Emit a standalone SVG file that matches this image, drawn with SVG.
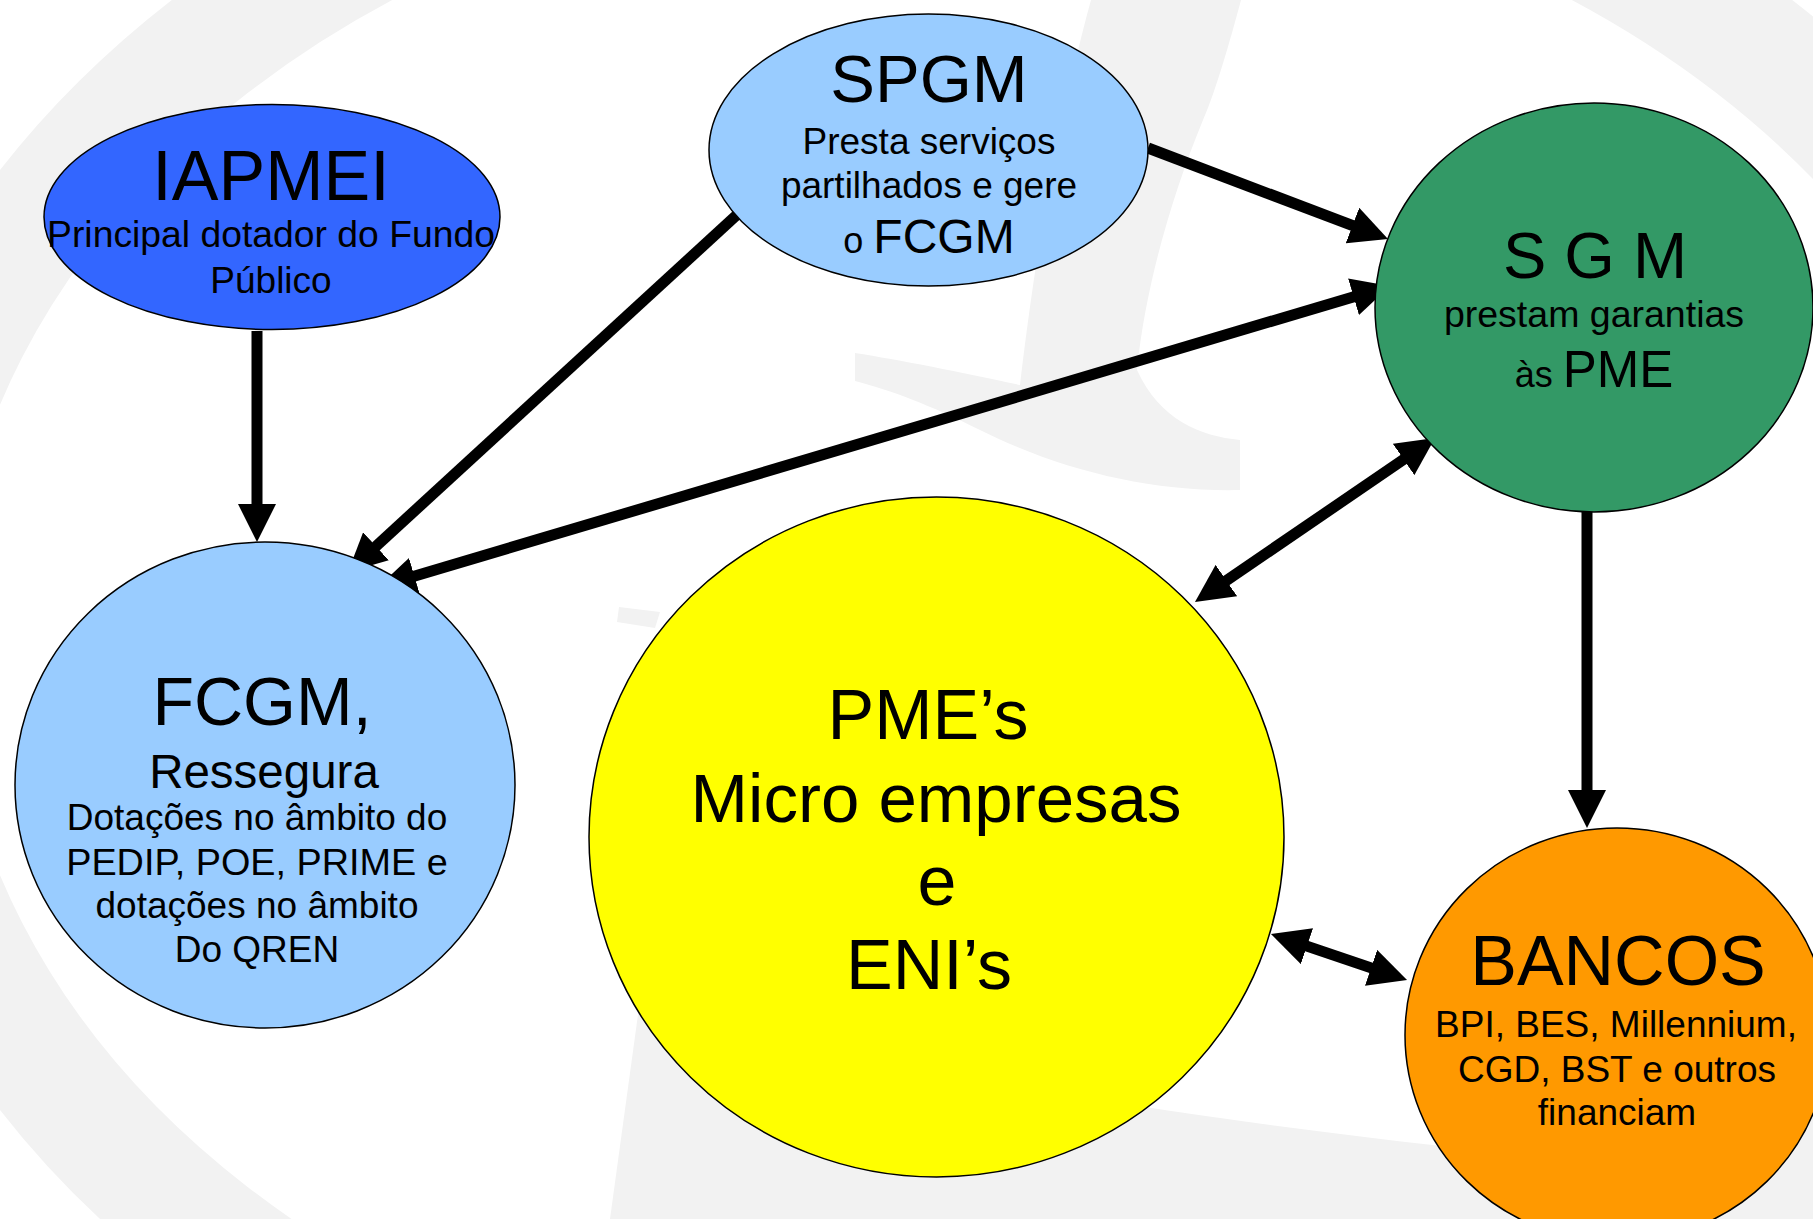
<svg xmlns="http://www.w3.org/2000/svg" width="1813" height="1219" viewBox="0 0 1813 1219">
<style>
.bg{fill:none;stroke:#f2f2f2}
.bgf{fill:#f2f2f2}
.node{stroke:#000;stroke-width:1.5}
text{font-family:"Liberation Sans",Arial,Helvetica,sans-serif;fill:#000;text-anchor:middle}
.t70{font-size:70px}
.t37{font-size:37px}
.conn{stroke:#000;stroke-width:11;fill:none;marker-end:url(#ah)}
.both{marker-start:url(#ah)}
</style>
<defs>
<marker id="ah" viewBox="0 0 38 38" refX="18" refY="19" markerWidth="38" markerHeight="38" markerUnits="userSpaceOnUse" orient="auto-start-reverse">
<path d="M0,0 L38,19 L0,38 z" fill="#000"/>
</marker>
</defs>
<rect width="1813" height="1219" fill="#fff"/>
<g id="watermark">
<ellipse class="bg" cx="982" cy="640" rx="1090" ry="841" stroke-width="120"/>
<path class="bgf" d="M1091,0 L1241,0 C1225,60 1212,100 1203,120 C1170,200 1145,290 1137,370 C1160,420 1200,436 1240,440 L1240,490 C1150,492 1060,470 980,430 C930,405 890,390 855,381 L855,353 C900,360 960,372 1020,385 C1030,300 1050,150 1091,0 z"/>
<path class="bgf" d="M640,1000 C800,1050 1100,1110 1480,1150 L1700,1170 L1700,1219 L610,1219 z"/>
<path class="bgf" d="M619,607 L660,612 L655,628 L617,622 z"/>
</g>
<g id="connectors">
<line class="conn" x1="257" y1="331" x2="257" y2="522"/>
<line class="conn" x1="740" y1="212" x2="362.7" y2="558.5"/>
<line class="conn" x1="1148" y1="148" x2="1369.3" y2="231.9"/>
<line class="conn both" x1="397.2" y1="581.3" x2="1370.8" y2="291.7"/>
<line class="conn both" x1="1211.5" y1="590.7" x2="1418.5" y2="449.3"/>
<line class="conn" x1="1587" y1="512" x2="1587" y2="808"/>
<line class="conn both" x1="1289.9" y1="940.4" x2="1388.1" y2="973.6"/>
</g>
<g id="node-iapmei">
<ellipse class="node" cx="272" cy="217" rx="228" ry="112.5" fill="#3366ff"/>
<text class="t70" x="271" y="200">IAPMEI</text>
<text x="271" y="247" style="font-size:37.3px">Principal dotador do Fundo</text>
<text class="t37" x="271" y="293">Público</text>
</g>
<g id="node-spgm">
<ellipse class="node" cx="928.5" cy="150" rx="219.5" ry="136" fill="#99ccff"/>
<text x="929" y="102" style="font-size:67px">SPGM</text>
<text class="t37" x="929" y="154">Presta serviços</text>
<text class="t37" x="929" y="198">partilhados e gere</text>
<text x="929" y="253" style="font-size:36px">o <tspan style="font-size:48px">FCGM</tspan></text>
</g>
<g id="node-sgm">
<ellipse class="node" cx="1594" cy="307.5" rx="219" ry="204.5" fill="#339966"/>
<text x="1595" y="278" style="font-size:65px">S G M</text>
<text x="1594" y="327" style="font-size:37.5px">prestam garantias</text>
<text x="1594" y="387" style="font-size:36px">às <tspan style="font-size:51px">PME</tspan></text>
</g>
<g id="node-fcgm">
<ellipse class="node" cx="265" cy="785" rx="250" ry="243" fill="#99ccff"/>
<text x="262" y="725" style="font-size:68px">FCGM,</text>
<text x="264" y="788" style="font-size:47.5px">Ressegura</text>
<text class="t37" x="257" y="830">Dotações no âmbito do</text>
<text x="257" y="875" style="font-size:37.8px">PEDIP, POE, PRIME e</text>
<text class="t37" x="257" y="918">dotações no âmbito</text>
<text class="t37" x="257" y="962">Do QREN</text>
</g>
<g id="node-pme">
<ellipse class="node" cx="936.5" cy="837" rx="347.5" ry="340" fill="#ffff00"/>
<text class="t70" x="928" y="739">PME’s</text>
<text x="936" y="822" style="font-size:69px">Micro empresas</text>
<text class="t70" x="937" y="905">e</text>
<text class="t70" x="929" y="989">ENI’s</text>
</g>
<g id="node-bancos">
<ellipse class="node" cx="1617" cy="1035" rx="212" ry="207" fill="#ff9900"/>
<text class="t70" x="1618" y="985">BANCOS</text>
<text x="1616" y="1037" style="font-size:37px">BPI, BES, Millennium,</text>
<text x="1617" y="1082" style="font-size:37px">CGD, BST e outros</text>
<text x="1617" y="1125" style="font-size:37px">financiam</text>
</g>
</svg>
